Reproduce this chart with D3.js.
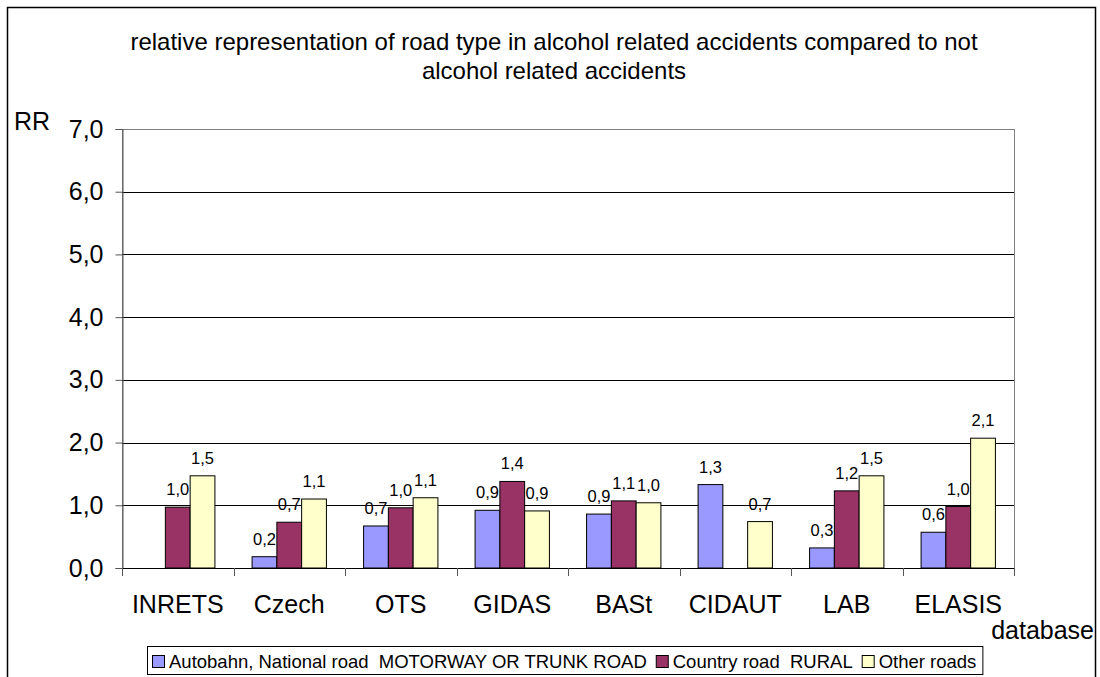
<!DOCTYPE html>
<meta charset="utf-8">
<style>
    body{ margin: 0; background: white; }
    text{ font-family: "Liberation Sans", Arial, sans-serif; fill: #000; }
</style>
<script src="https://d3js.org/d3.v7.min.js"></script>

<div id="my_dataviz"></div>

<script>
    // data
    var categories = ["INRETS", "Czech", "OTS", "GIDAS", "BASt", "CIDAUT", "LAB", "ELASIS"];
    var seriesNames = ["Autobahn, National road  MOTORWAY OR TRUNK ROAD", "Country road  RURAL", "Other roads"];
    var autobahn = [null, 0.18, 0.67, 0.92, 0.86, 1.33, 0.32, 0.57];
    var country  = [0.97, 0.73, 0.96, 1.38, 1.07, null, 1.23, 0.98];
    var other    = [1.47, 1.10, 1.12, 0.91, 1.04, 0.74, 1.47, 2.07];
    var yTicks = [0, 1, 2, 3, 4, 5, 6, 7];

    var allSeries = [autobahn, country, other];
    var colors = ["#9999FF", "#993366", "#FFFFCC"];

    var W = 1100, H = 677;
    var plot = {left: 122, right: 1014, top: 129, bottom: 568};

    var svg = d3.select("#my_dataviz")
      .append("svg")
        .attr("width", W)
        .attr("height", H);

    // outer chart border
    svg.append("rect")
        .attr("x", 7.5).attr("y", 7.5)
        .attr("width", 1088).attr("height", 690)
        .attr("fill", "white")
        .attr("stroke", "#000")
        .attr("stroke-width", 1.5);

    // title
    svg.append("text").attr("x", 554).attr("y", 50).attr("text-anchor", "middle")
        .style("font-size", "24px")
        .text("relative representation of road type in alcohol related accidents compared to not");
    svg.append("text").attr("x", 554).attr("y", 79).attr("text-anchor", "middle")
        .style("font-size", "24px")
        .text("alcohol related accidents");

    // scales
    const x0 = d3.scaleBand()
        .domain(categories)
        .range([plot.left, plot.right])
        .padding(0);

    const x1 = d3.scaleBand()
        .domain([0, 1, 2])
        .range([0, x0.bandwidth()])
        .paddingInner(0)
        .paddingOuter(0.75);

    const y = d3.scaleLinear()
        .domain([0, 7])
        .range([plot.bottom, plot.top]);

    // plot area frame (grey)
    svg.append("rect")
        .attr("x", plot.left + 0.5).attr("y", plot.top + 0.5)
        .attr("width", plot.right - plot.left).attr("height", plot.bottom - plot.top)
        .attr("fill", "none")
        .attr("stroke", "#808080");

    // gridlines
    svg.append("g")
        .selectAll("line")
        .data(yTicks.slice(1, -1))
        .join("line")
        .attr("x1", plot.left).attr("x2", plot.right)
        .attr("y1", d => Math.round(y(d)) + 0.5).attr("y2", d => Math.round(y(d)) + 0.5)
        .attr("stroke", "#000");

    // y axis
    var yAxis = d3.axisLeft(y).tickValues(yTicks).tickSize(7).tickPadding(12)
        .tickFormat(d => d3.format(".1f")(d).replace(".", ","));
    svg.append("g")
        .attr("transform", `translate(${plot.left + 0.5},0)`)
        .call(yAxis)
        .call(g => g.select(".domain").attr("stroke", "#555"))
        .call(g => g.selectAll(".tick line").attr("stroke", "#555"))
        .call(g => g.selectAll(".tick text").style("font-size", "25px")
            .style("font-family", "'Liberation Sans', Arial, sans-serif"));

    // bars
    allSeries.forEach(function(vals, s) {
        var rows = categories.map((c, i) => ({cat: c, v: vals[i]})).filter(d => d.v != null);
        svg.append("g")
            .selectAll("rect")
            .data(rows)
            .join("rect")
            .attr("x", d => x0(d.cat) + x1(s))
            .attr("y", d => y(d.v))
            .attr("width", x1.bandwidth())
            .attr("height", d => y(0) - y(d.v))
            .attr("fill", colors[s])
            .attr("stroke", "#000")
            .attr("stroke-width", 1);

        svg.append("g")
            .selectAll("text")
            .data(rows)
            .join("text")
            .attr("x", d => x0(d.cat) + x1(s) + x1.bandwidth() / 2)
            .attr("y", d => y(d.v) - 12)
            .attr("text-anchor", "middle")
            .style("font-size", "16.5px")
            .text(d => d3.format(".1f")(d.v).replace(".", ","));
    });

    // x axis (zero line + ticks at category boundaries)
    svg.append("line")
        .attr("x1", plot.left).attr("x2", plot.right)
        .attr("y1", y(0) + 0.5).attr("y2", y(0) + 0.5)
        .attr("stroke", "#000");
    var bounds = categories.map(c => x0(c)).concat([plot.right]);
    svg.append("g")
        .selectAll("line")
        .data(bounds)
        .join("line")
        .attr("x1", d => Math.round(d) + 0.5).attr("x2", d => Math.round(d) + 0.5)
        .attr("y1", y(0)).attr("y2", y(0) + 8)
        .attr("stroke", "#555");
    svg.append("g")
        .selectAll("text")
        .data(categories)
        .join("text")
        .attr("x", d => x0(d) + x0.bandwidth() / 2)
        .attr("y", 613)
        .attr("text-anchor", "middle")
        .style("font-size", "25px")
        .text(d => d);

    // axis titles
    svg.append("text").attr("x", 14).attr("y", 130).style("font-size", "25px").text("RR");
    svg.append("text").attr("x", 1094).attr("y", 639).attr("text-anchor", "end")
        .style("font-size", "25px").text("database");

    // legend
    var leg = svg.append("g");
    var lx = 152;
    seriesNames.forEach(function(name, s) {
        leg.append("rect").attr("x", lx + 0.5).attr("y", 655.5).attr("width", 12).attr("height", 12)
            .attr("fill", colors[s]).attr("stroke", "#000");
        var t = leg.append("text").attr("x", lx + 17).attr("y", 668)
            .attr("xml:space", "preserve")
            .style("white-space", "pre")
            .style("font-size", "18.5px").text(name);
        lx += 17 + t.node().getComputedTextLength() + 9;
    });
    leg.insert("rect", ":first-child")
        .attr("x", 147.5).attr("y", 646.5)
        .attr("width", lx - 147 - 3).attr("height", 28)
        .attr("fill", "white").attr("stroke", "#000");
</script>
